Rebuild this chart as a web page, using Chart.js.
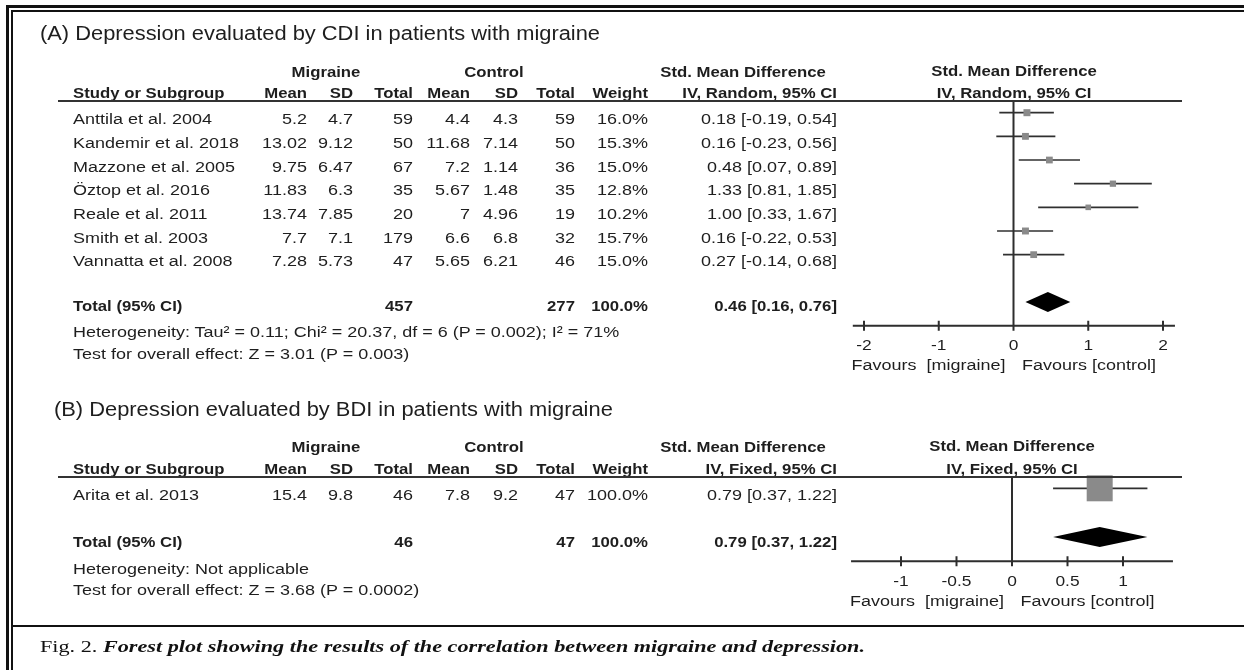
<!DOCTYPE html>
<html>
<head>
<meta charset="utf-8">
<script src="https://cdn.jsdelivr.net/npm/chart.js@4.4.1/dist/chart.umd.min.js"></script>
<style>
  html, body { margin: 0; padding: 0; background: #fff; }
  #page { position: relative; width: 1244px; height: 670px; overflow: hidden; background: #fff; }
  #forest { position: absolute; left: 0; top: 0; }
  .t { position: absolute; white-space: pre; font-family: "Liberation Sans", Arial, sans-serif; color: #1e1e1e; line-height: 20px; height: 20px; }
  .b { font-weight: bold; }
  .rule { position: absolute; background: #111; }
  .hline { position: absolute; background: #333; }
</style>
</head>
<body>
<div id="page">
  <canvas id="forest" width="1244" height="670"></canvas>
</div>
<script>
// ---- (A) CDI studies ----
const studiesA = ['Anttila et al. 2004', 'Kandemir et al. 2018', 'Mazzone et al. 2005', 'Öztop et al. 2016',
                  'Reale et al. 2011', 'Smith et al. 2003', 'Vannatta et al. 2008'];
const migMeanA = [5.2, 13.02, 9.75, 11.83, 13.74, 7.7, 7.28];
const migSdA   = [4.7, 9.12, 6.47, 6.3, 7.85, 7.1, 5.73];
const migNA    = [59, 50, 67, 35, 20, 179, 47];
const ctlMeanA = [4.4, 11.68, 7.2, 5.67, 7, 6.6, 5.65];
const ctlSdA   = [4.3, 7.14, 1.14, 1.48, 4.96, 6.8, 6.21];
const ctlNA    = [59, 50, 36, 35, 19, 32, 46];
const weightA  = [16.0, 15.3, 15.0, 12.8, 10.2, 15.7, 15.0];
const smdA     = [0.18, 0.16, 0.48, 1.33, 1.00, 0.16, 0.27];
const lowA     = [-0.19, -0.23, 0.07, 0.81, 0.33, -0.22, -0.14];
const highA    = [0.54, 0.56, 0.89, 1.85, 1.67, 0.53, 0.68];
const totalNA  = [457, 277];
const pooledA  = [0.46, 0.16, 0.76];   // estimate, low, high
const hetA  = 'Heterogeneity: Tau² = 0.11; Chi² = 20.37, df = 6 (P = 0.002); I² = 71%';
const testA = 'Test for overall effect: Z = 3.01 (P = 0.003)';
const ticksA = [-2, -1, 0, 1, 2];

// ---- (B) BDI studies ----
const studiesB = ['Arita et al. 2013'];
const migMeanB = [15.4];
const migSdB   = [9.8];
const migNB    = [46];
const ctlMeanB = [7.8];
const ctlSdB   = [9.2];
const ctlNB    = [47];
const weightB  = [100.0];
const smdB     = [0.79];
const lowB     = [0.37];
const highB    = [1.22];
const totalNB  = [46, 47];
const pooledB  = [0.79, 0.37, 1.22];
const hetB  = 'Heterogeneity: Not applicable';
const testB = 'Test for overall effect: Z = 3.68 (P = 0.0002)';
const ticksB = [-1, -0.5, 0, 0.5, 1];

// ---- layout ----
const W = 1244, H = 670;
const page = document.getElementById('page');
const COLS = [307, 353, 413, 470, 518, 575, 648, 837];   // right edges of table columns
const FS = 15.5, STRETCH = 1.16, STRETCH_B = 1.08;

// forest geometry: pixel of x=0, pixels per unit, pixel of row 0, pixels per row
const ZERO_A = 1013.5, UNIT_A = 74.75, Y0_A = 112.7, STEP_A = 23.66;
const ZERO_B = 1012,   UNIT_B = 111,   Y0_B = 488.3, STEP_B = 24.35;

function addText(str, x, y, align, bold, size, stretch) {
  const el = document.createElement('div');
  el.className = 't' + (bold ? ' b' : '');
  el.textContent = str;
  el.style.fontSize = (size || FS) + 'px';
  el.style.top = (y - 10) + 'px';
  if (align === 'left') {
    el.style.left = x + 'px';
    el.style.transformOrigin = 'left center';
  } else if (align === 'right') {
    el.style.left = (x - 1000) + 'px';
    el.style.width = '1000px';
    el.style.textAlign = 'right';
    el.style.transformOrigin = 'right center';
  } else {
    el.style.left = (x - 500) + 'px';
    el.style.width = '1000px';
    el.style.textAlign = 'center';
    el.style.transformOrigin = 'center center';
  }
  el.style.transform = 'scaleX(' + (stretch || (bold ? STRETCH_B : STRETCH)) + ')';
  page.appendChild(el);
  return el;
}

function addRule(cls, left, top, width, height) {
  const d = document.createElement('div');
  d.className = cls;
  Object.assign(d.style, { left: left + 'px', top: top + 'px', width: width + 'px', height: height + 'px' });
  page.appendChild(d);
}

function fitWidth(el, target) {
  const w = el.getBoundingClientRect().width;
  const k = target / w;
  el.style.transformOrigin = 'left center';
  el.style.transform = 'scaleX(' + k + ')';
  return k;
}

const fmtCI = (e, l, h) => e.toFixed(2) + ' [' + l.toFixed(2) + ', ' + h.toFixed(2) + ']';

function drawTable(sec) {
  const title = addText(sec.title, sec.titleX, sec.yTitle, 'left', false, 19.5, 1);
  const k = sec.titleFit ? fitWidth(title, sec.titleFit) : sec.titleK;
  if (!sec.titleFit) { title.style.transformOrigin = 'left center'; title.style.transform = 'scaleX(' + k + ')'; }

  addText('Migraine', 326, sec.yHead1, 'center', true);
  addText('Control', 494, sec.yHead1, 'center', true);
  addText('Std. Mean Difference', 743, sec.yHead1, 'center', true);
  addText('Std. Mean Difference', sec.zero, sec.yHead1 - 1, 'center', true);

  addText('Study or Subgroup', 73, sec.yHead2, 'left', true);
  ['Mean', 'SD', 'Total', 'Mean', 'SD', 'Total', 'Weight', sec.method].forEach((h, c) =>
    addText(h, COLS[c], sec.yHead2, 'right', true));
  addText(sec.method, sec.zero, sec.yHead2, 'center', true);
  addRule('hline', 58, sec.yLine, 1124, 2);

  sec.studies.forEach((name, i) => {
    const y = sec.yRow0 + sec.step * i;
    addText(name, 73, y, 'left');
    const cells = [String(sec.m1[i]), String(sec.s1[i]), String(sec.n1[i]),
                   String(sec.m2[i]), String(sec.s2[i]), String(sec.n2[i]),
                   sec.w[i].toFixed(1) + '%', fmtCI(sec.est[i], sec.lo[i], sec.hi[i])];
    cells.forEach((c, j) => addText(c, COLS[j], y, 'right'));
  });

  addText('Total (95% CI)', 73, sec.yTotal, 'left', true);
  addText(String(sec.totN[0]), COLS[2], sec.yTotal, 'right', true);
  addText(String(sec.totN[1]), COLS[5], sec.yTotal, 'right', true);
  addText('100.0%', COLS[6], sec.yTotal, 'right', true);
  addText(fmtCI(sec.pooled[0], sec.pooled[1], sec.pooled[2]), COLS[7], sec.yTotal, 'right', true);
  addText(sec.het, 73, sec.yHet, 'left');
  addText(sec.test, 73, sec.yTest, 'left');
  return k;
}

const kTitle = drawTable({
  title: '(A) Depression evaluated by CDI in patients with migraine', titleX: 40, titleFit: 560, yTitle: 33,
  yHead1: 71.5, yHead2: 92.5, yLine: 100, method: 'IV, Random, 95% CI', zero: ZERO_A,
  studies: studiesA, m1: migMeanA, s1: migSdA, n1: migNA, m2: ctlMeanA, s2: ctlSdA, n2: ctlNA,
  w: weightA, est: smdA, lo: lowA, hi: highA, yRow0: Y0_A + 6.5, step: STEP_A,
  yTotal: 306, totN: totalNA, pooled: pooledA, het: hetA, yHet: 331.5, test: testA, yTest: 354
});
drawTable({
  title: '(B) Depression evaluated by BDI in patients with migraine', titleX: 54, titleK: kTitle, yTitle: 409,
  yHead1: 446.5, yHead2: 468.5, yLine: 476, method: 'IV, Fixed, 95% CI', zero: ZERO_B,
  studies: studiesB, m1: migMeanB, s1: migSdB, n1: migNB, m2: ctlMeanB, s2: ctlSdB, n2: ctlNB,
  w: weightB, est: smdB, lo: lowB, hi: highB, yRow0: Y0_B + 6.2, step: STEP_B,
  yTotal: 541.5, totN: totalNB, pooled: pooledB, het: hetB, yHet: 569, test: testB, yTest: 590
});

// frame and caption
addRule('rule', 6, 5, W - 6, 3);
addRule('rule', 6, 5, 3, H - 5);
addRule('rule', 11, 10, W - 11, 1.5);
addRule('rule', 11, 10, 1.5, H - 10);
addRule('rule', 11, 625, W - 11, 2);

const cap = document.createElement('div');
cap.className = 't';
cap.style.fontFamily = '"Liberation Serif", "Times New Roman", serif';
cap.style.fontSize = '17px';
cap.style.left = '40px';
cap.style.top = (646.5 - 10) + 'px';
cap.style.color = '#111';
const capA = document.createElement('span');
capA.textContent = 'Fig. 2. ';
const capB = document.createElement('span');
capB.textContent = 'Forest plot showing the results of the correlation between migraine and depression.';
capB.style.fontStyle = 'italic';
capB.style.fontWeight = 'bold';
cap.appendChild(capA);
cap.appendChild(capB);
page.appendChild(cap);
fitWidth(cap, 825);

// ---- forest plots ----
const panels = [
  { x: 'xA', y: 'yA', ticks: ticksA, axisRow: 9, axisMin: -2.15, axisMax: 2.16, pooled: pooledA, poolRow: 8 },
  { x: 'xB', y: 'yB', ticks: ticksB, axisRow: 3, axisMin: -1.45, axisMax: 1.45, pooled: pooledB, poolRow: 2 }
];

function stretchedText(ctx, str, x, y, align, k) {
  ctx.save();
  ctx.translate(x, y);
  ctx.scale(k, 1);
  ctx.textAlign = align;
  ctx.textBaseline = 'middle';
  ctx.fillText(str, 0, 0);
  ctx.restore();
}

const forestDecor = {
  id: 'forestDecor',
  beforeDatasetsDraw(chart) {
    const ctx = chart.ctx;
    panels.forEach(p => {
      const xs = chart.scales[p.x], ys = chart.scales[p.y];
      const x0 = xs.getPixelForValue(0);
      const yAx = ys.getPixelForValue(p.axisRow);
      ctx.save();
      ctx.strokeStyle = '#2e2e2e';
      ctx.lineWidth = 2;
      ctx.beginPath();
      ctx.moveTo(x0, ys.getPixelForValue(-0.5));
      ctx.lineTo(x0, yAx);
      ctx.moveTo(xs.getPixelForValue(p.axisMin), yAx);
      ctx.lineTo(xs.getPixelForValue(p.axisMax), yAx);
      p.ticks.forEach(t => {
        const x = xs.getPixelForValue(t);
        ctx.moveTo(x, yAx - 5);
        ctx.lineTo(x, yAx + 5);
      });
      ctx.stroke();

      ctx.fillStyle = '#1e1e1e';
      ctx.font = FS + 'px "Liberation Sans", Arial, sans-serif';
      p.ticks.forEach(t => stretchedText(ctx, String(t), xs.getPixelForValue(t), yAx + 20.5, 'center', 1.12));
      stretchedText(ctx, 'Favours  [migraine]', x0 - 8, yAx + 40, 'right', STRETCH);
      stretchedText(ctx, 'Favours [control]', x0 + 8.5, yAx + 40, 'left', STRETCH);
      ctx.restore();
    });
  },
  afterDatasetsDraw(chart) {
    const ctx = chart.ctx;
    panels.forEach(p => {
      const xs = chart.scales[p.x], ys = chart.scales[p.y];
      const y = ys.getPixelForValue(p.poolRow);
      ctx.save();
      ctx.fillStyle = '#000';
      ctx.beginPath();
      ctx.moveTo(xs.getPixelForValue(p.pooled[1]), y);
      ctx.lineTo(xs.getPixelForValue(p.pooled[0]), y - 10);
      ctx.lineTo(xs.getPixelForValue(p.pooled[2]), y);
      ctx.lineTo(xs.getPixelForValue(p.pooled[0]), y + 10);
      ctx.closePath();
      ctx.fill();
      ctx.restore();
    });
  }
};

function ciDatasets(lo, hi, xId, yId) {
  return lo.map((l, i) => ({
    type: 'line',
    data: [{ x: l, y: i }, { x: hi[i], y: i }],
    xAxisID: xId, yAxisID: yId,
    borderColor: '#303030', borderWidth: 1.7,
    pointRadius: 0, order: 2
  }));
}

function squareDataset(est, w, factor, xId, yId) {
  return {
    type: 'scatter',
    data: est.map((v, i) => ({ x: v, y: i })),
    xAxisID: xId, yAxisID: yId,
    pointStyle: 'rect',
    pointRadius: w.map(v => factor * Math.sqrt(v) * Math.SQRT1_2),
    backgroundColor: '#8a8a8a', borderWidth: 0, order: 1
  };
}

const datasets = [
  squareDataset(smdA, weightA, 1.75, 'xA', 'yA'),
  squareDataset(smdB, weightB, 2.6, 'xB', 'yB'),
  ...ciDatasets(lowA, highA, 'xA', 'yA'),
  ...ciDatasets(lowB, highB, 'xB', 'yB')
];

new Chart(document.getElementById('forest'), {
  type: 'scatter',
  data: { datasets },
  options: {
    responsive: false,
    animation: false,
    devicePixelRatio: 1,
    layout: { padding: 0, autoPadding: false },
    events: [],
    plugins: { legend: { display: false }, tooltip: { enabled: false } },
    scales: {
      xA: { type: 'linear', axis: 'x', display: false, min: -ZERO_A / UNIT_A, max: (W - ZERO_A) / UNIT_A },
      xB: { type: 'linear', axis: 'x', display: false, min: -ZERO_B / UNIT_B, max: (W - ZERO_B) / UNIT_B },
      yA: { type: 'linear', axis: 'y', display: false, reverse: true, min: -Y0_A / STEP_A, max: (H - Y0_A) / STEP_A },
      yB: { type: 'linear', axis: 'y', display: false, reverse: true, min: -Y0_B / STEP_B, max: (H - Y0_B) / STEP_B }
    }
  },
  plugins: [forestDecor]
});
</script>
</body>
</html>
